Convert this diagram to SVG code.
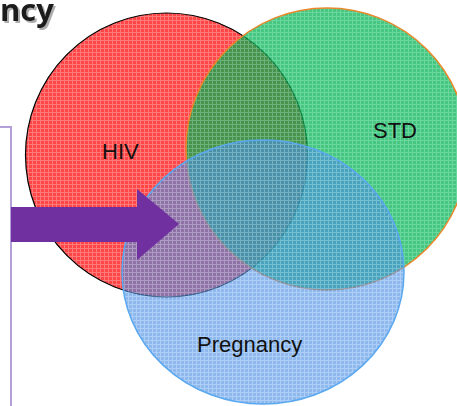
<svg xmlns="http://www.w3.org/2000/svg" width="457" height="406" viewBox="0 0 457 406">
<style>
.lbl{font-family:"Liberation Sans",Arial,sans-serif;font-size:22px;fill:#111}
.ttl{font-family:"Open Sans","DejaVu Sans",sans-serif;font-size:31px;font-weight:bold;fill:#1a1a1a}
</style>
<defs>
<filter id="sh" x="-10%" y="-10%" width="130%" height="140%">
<feDropShadow dx="2" dy="2" stdDeviation="0.6" flood-color="#999" flood-opacity="0.8"/>
</filter>
<pattern id="pr" width="4" height="4" patternUnits="userSpaceOnUse">
<rect width="4" height="4" fill="#ff4545"/>
<rect width="4" height="1" fill="#ff7a7a"/>
<rect width="1" height="4" fill="#ff7a7a"/>
</pattern>
<pattern id="pg" width="4" height="4" patternUnits="userSpaceOnUse">
<rect width="4" height="4" fill="#00b050"/>
<rect width="4" height="1" fill="#30c878"/>
<rect width="1" height="4" fill="#30c878"/>
</pattern>
<pattern id="pb" width="4" height="4" patternUnits="userSpaceOnUse">
<rect width="4" height="4" fill="#4a8ee0"/>
<rect width="4" height="1" fill="#7ab0f0"/>
<rect width="1" height="4" fill="#7ab0f0"/>
</pattern>
</defs>
<g id="title">
<text class="ttl" x="0" y="21" filter="url(#sh)">ncy</text>
</g>
<g id="hiv">
<ellipse cx="166.5" cy="155" rx="141" ry="142" fill="url(#pr)" stroke="#000" stroke-width="1.2"/>
</g>
<g id="std">
<circle cx="327" cy="149" r="141" fill="url(#pg)" fill-opacity="0.72" stroke="#e8882a" stroke-width="1.5"/>
</g>
<g id="pregnancy">
<ellipse cx="263" cy="272" rx="141" ry="132" fill="url(#pb)" fill-opacity="0.62" stroke="#5aa8f0" stroke-width="1.5"/>
</g>
<g id="labels">
<text class="lbl" x="102" y="159">HIV</text>
<text class="lbl" x="373" y="138">STD</text>
<text class="lbl" x="197" y="352">Pregnancy</text>
</g>
<g id="connectors">
<path d="M0 127H11V406" fill="none" stroke="#b4a0d8" stroke-width="2"/>
<polygon points="11,207 137,207 137,189 179,224 137,260 137,242 11,242" fill="#7030a0"/>
</g>
</svg>
